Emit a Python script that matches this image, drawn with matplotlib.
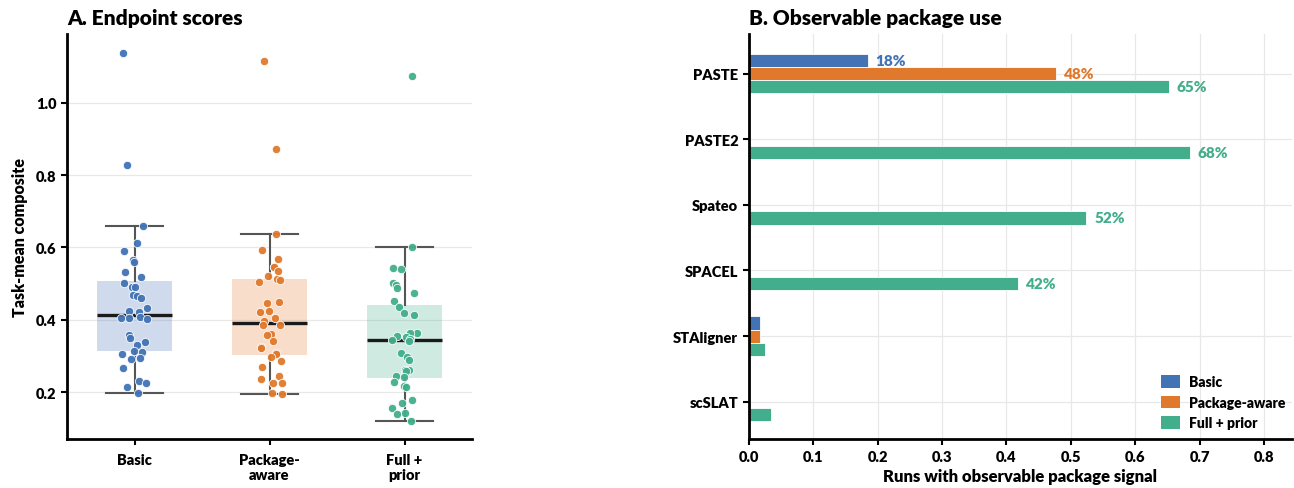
import numpy as np
import matplotlib.pyplot as plt
from matplotlib.patches import Patch

plt.rcParams['font.family'] = ['Lato', 'DejaVu Sans']
plt.rcParams['font.weight'] = 'heavy'
plt.rcParams['axes.labelweight'] = 'heavy'
plt.rcParams['axes.titleweight'] = 'heavy'

# colours per condition
conditions = ['Basic', 'Package-aware', 'Full + prior']
cond_ticks = ['Basic', 'Package-\naware', 'Full +\nprior']
colors = ['#4273B5', '#E0792C', '#42AE8B']

# panel A: task-mean composite per run
basic_scores = [1.138, 0.828, 0.659, 0.612, 0.590, 0.565, 0.561, 0.533, 0.518, 0.502,
                0.490, 0.490, 0.468, 0.465, 0.461, 0.434, 0.425, 0.421, 0.407, 0.405,
                0.404, 0.402, 0.358, 0.349, 0.338, 0.331, 0.314, 0.310, 0.305, 0.294,
                0.291, 0.268, 0.231, 0.225, 0.213, 0.197]
pkg_scores = [1.116, 0.873, 0.638, 0.593, 0.567, 0.545, 0.545, 0.536, 0.520, 0.512,
              0.510, 0.504, 0.450, 0.446, 0.423, 0.421, 0.405, 0.397, 0.387, 0.385,
              0.361, 0.358, 0.340, 0.326, 0.323, 0.307, 0.306, 0.298, 0.286, 0.270,
              0.245, 0.236, 0.224, 0.224, 0.198, 0.196]
full_scores = [1.075, 0.602, 0.542, 0.541, 0.502, 0.497, 0.487, 0.474, 0.451, 0.436,
               0.419, 0.413, 0.364, 0.363, 0.356, 0.352, 0.348, 0.344, 0.342, 0.307,
               0.298, 0.289, 0.261, 0.261, 0.257, 0.245, 0.242, 0.229, 0.217, 0.215,
               0.179, 0.169, 0.156, 0.142, 0.139, 0.119]

# panel B: share of runs with observable package signal
packages = ['PASTE', 'PASTE2', 'Spateo', 'SPACEL', 'STAligner', 'scSLAT']
use_basic = [0.185, 0.0, 0.0, 0.0, 0.0176, 0.0]
use_pkg = [0.477, 0.0, 0.0, 0.0, 0.0176, 0.0]
use_full = [0.652, 0.685, 0.524, 0.418, 0.026, 0.0346]

fig = plt.figure(figsize=(12.94, 4.89), dpi=100)
ax1 = fig.add_axes([0.0518, 0.100, 0.313, 0.828])
ax2 = fig.add_axes([0.5785, 0.100, 0.4200, 0.828])

# ---- A. Endpoint scores ----
groups = [basic_scores, pkg_scores, full_scores]
rng = np.random.default_rng(3)
for i, (vals, c) in enumerate(zip(groups, colors)):
    bp = ax1.boxplot([vals], positions=[i], widths=0.56, patch_artist=True,
                     showfliers=False, zorder=2,
                     boxprops=dict(facecolor=c, alpha=0.25, linewidth=0),
                     whiskerprops=dict(color='#555555', linewidth=1.5),
                     capprops=dict(color='#555555', linewidth=1.5),
                     medianprops=dict(color='#1a1a1a', linewidth=2.4))
    for cap in bp['caps']:
        mid = cap.get_xdata().mean()
        cap.set_xdata([mid - 0.21, mid + 0.21])
    xs = i + rng.uniform(-0.1, 0.1, len(vals))
    ax1.scatter(xs, vals, s=36, color=c, edgecolor='white', linewidth=0.6,
                alpha=0.95, zorder=3)

ax1.set_xlim(-0.5, 2.5)
ax1.set_ylim(0.07, 1.19)
ax1.set_xticks(range(3))
ax1.set_xticklabels(cond_ticks, fontsize=10.5)
ax1.set_yticks([0.2, 0.4, 0.6, 0.8, 1.0])
ax1.tick_params(axis='y', labelsize=10.5, width=1.5, length=4)
ax1.tick_params(axis='x', width=1.5, length=4, pad=6)
ax1.set_ylabel('Task-mean composite', fontsize=11.5, labelpad=6)
ax1.set_title('A. Endpoint scores', loc='left', fontsize=15, pad=7)
ax1.yaxis.grid(True, color='#e8e8e8', linewidth=0.9, zorder=0)
ax1.set_axisbelow(True)
for s in ['top', 'right']:
    ax1.spines[s].set_visible(False)
for s in ['left', 'bottom']:
    ax1.spines[s].set_linewidth(2)

# ---- B. Observable package use ----
y = np.arange(len(packages))
h = 0.2
series = [use_basic, use_pkg, use_full]
for k, (vals, c, lab) in enumerate(zip(series, colors, conditions)):
    pos = y + (k - 1) * h
    ax2.barh(pos, vals, height=h, color=c, edgecolor='white', linewidth=0.6,
             label=lab, zorder=2)
    for p, v in zip(pos, vals):
        if v >= 0.1:
            ax2.text(v + 0.012, p, f'{v * 100:.0f}%', va='center', ha='left',
                     color=c, fontsize=11, fontweight='heavy')

ax2.set_yticks(y)
ax2.set_yticklabels(packages, fontsize=10.5)
ax2.set_ylim(5.57, -0.6)
ax2.set_xlim(0, 0.843)
ax2.set_xticks(np.arange(0, 0.81, 0.1))
ax2.tick_params(axis='both', labelsize=10.5, width=1.5, length=4)
ax2.set_xlabel('Runs with observable package signal', fontsize=12, labelpad=4)
ax2.set_title('B. Observable package use', loc='left', fontsize=15, pad=7)
ax2.grid(True, color='#e8e8e8', linewidth=0.9, zorder=0)
ax2.set_axisbelow(True)
for s in ['top', 'right']:
    ax2.spines[s].set_visible(False)
for s in ['left', 'bottom']:
    ax2.spines[s].set_linewidth(2)

handles = [Patch(facecolor=c, label=l) for c, l in zip(colors, conditions)]
ax2.legend(handles=handles, loc='lower right', frameon=False, fontsize=10,
           handlelength=1.4, handleheight=1.0, handletextpad=0.6,
           labelspacing=0.55, borderaxespad=0.3,
           bbox_to_anchor=(1.005, 0.0))

fig.savefig('out.png', dpi=100)
